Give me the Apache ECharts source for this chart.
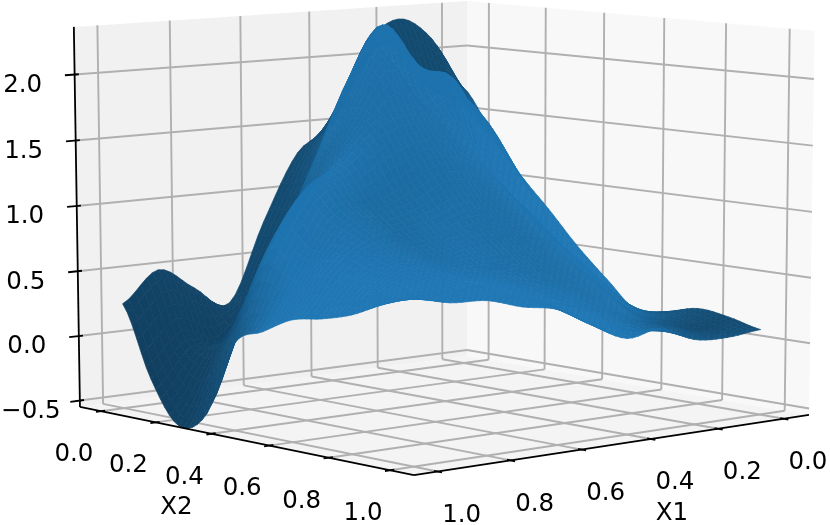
<!DOCTYPE html>
<html>
<head>
<meta charset="utf-8">
<title>surface</title>
<script src="https://cdn.jsdelivr.net/npm/echarts@6/dist/echarts.min.js"></script>
<style>
  html, body { margin: 0; padding: 0; background: #fff; }
  #chart { width: 830px; height: 525px; }
</style>
</head>
<body>
<div id="chart"></div>
<script>
// surface heights, rows = X2 ascending, columns = X1 ascending
const x1Values = [0, 0.1, 0.2, 0.3, 0.4, 0.5, 0.6, 0.7, 0.8, 0.9, 1];
const x2Values = [0, 0.1, 0.2, 0.3, 0.4, 0.5, 0.6, 0.7, 0.8, 0.9, 1];
const row00 = [1.69, 2.11, 2.28, 2.07, 1.49, 1.29, 0.774, 0.169, 0.317, 0.488, 0.257];
const row01 = [1.356, 1.64, 1.78, 2.12, 1.98, 1.46, 0.86, 0.34, -0.05, -0.02, -0.28];
const row02 = [1.05, 1.49, 1.77, 1.84, 2.31, 1.98, 1.38, 0.8, 0.3, -0.1, -0.6];
const row03 = [0.8, 1.1, 1.48, 1.92, 1.78, 2.12, 1.65, 1.15, 0.73, 0.3, -0.47];
const row04 = [0.537, 0.7, 1.0, 1.336, 1.59, 1.69, 1.6, 1.36, 1.2, 0.77, 0.1];
const row05 = [0.31, 0.51, 0.8, 1.06, 1.275, 1.34, 1.21, 1.09, 1.04, 0.66, 0.23];
const row06 = [0.1, 0.337, 0.56, 0.78, 0.96, 1.03, 0.94, 0.896, 0.92, 0.71, 0.355];
const row07 = [0.13, 0.163, 0.364, 0.563, 0.73, 0.797, 0.787, 0.757, 0.787, 0.655, 0.4];
const row08 = [0.19, 0.122, 0.185, 0.317, 0.5, 0.605, 0.658, 0.687, 0.73, 0.65, 0.466];
const row09 = [0.16, 0.098, 0.168, 0.165, 0.288, 0.416, 0.523, 0.626, 0.658, 0.65, 0.575];
const row10 = [0.102, 0.076, 0.093, 0.21, 0.169, 0.297, 0.448, 0.5, 0.578, 0.594, 0.655];
const heights = [row00, row01, row02, row03, row04, row05, row06, row07, row08, row09, row10];

const x1Ticks = [0, 0.2, 0.4, 0.6, 0.8, 1];
const x2Ticks = [0, 0.2, 0.4, 0.6, 0.8, 1];
const zTicks = [-0.5, 0, 0.5, 1, 1.5, 2];
const zTickLabels = ['\u22120.5', '0.0', '0.5', '1.0', '1.5', '2.0'];
const xTickLabels = ['0.0', '0.2', '0.4', '0.6', '0.8', '1.0'];

// axis box -> screen, camera fitted to the box corners
const boxX = (v) => 0.068 + 0.876 * v;
const boxY = (v) => 0.068 + 0.866 * v;
const boxZ = (v) => (v + 0.55) / 2.91;

function depth(X, Y, Z) {
  return 1 - 0.067 * X - 0.077 * Y - 0.0145 * Z;
}
function project(X, Y, Z) {
  const w = depth(X, Y, Z);
  return [
    (467 - 392.4 * X + 279.7 * Y - 6.77 * Z) / w,
    (356 + 23.7 * X + 27 * Y - 355.01 * Z) / w
  ];
}

// how lit the surface looks at each node, same layout as heights
const shading = [
  [0.65, 0.62, 0.62, 0.62, 0.62, 0.62, 0.62, 0.6, 0.58, 0.58, 0.55],
  [1, 0.62, 0.62, 0.62, 0.7, 0.75, 0.62, 0.6, 0.55, 0.55, 0.53],
  [1, 0.95, 0.98, 0.97, 0.97, 0.96, 0.93, 0.75, 0.68, 0.58, 0.55],
  [1, 1, 0.98, 0.97, 0.95, 0.95, 0.93, 0.85, 0.82, 0.72, 0.6],
  [1, 1, 1, 0.98, 0.95, 0.93, 0.93, 0.98, 0.98, 0.97, 0.72],
  [1, 1, 1, 0.97, 0.95, 0.92, 0.9, 0.9, 0.95, 0.98, 0.98],
  [0.95, 1, 0.98, 0.95, 0.92, 0.92, 0.93, 0.9, 0.95, 0.99, 1],
  [0.68, 0.95, 0.97, 0.95, 0.92, 0.92, 0.95, 0.93, 0.97, 1, 1],
  [0.68, 0.72, 0.95, 0.95, 0.93, 0.93, 0.95, 0.96, 0.98, 1, 1],
  [0.62, 0.62, 0.75, 0.98, 1, 1, 1, 1, 1, 1, 1],
  [0.68, 0.7, 0.75, 0.9, 1, 1, 1, 1, 1, 1, 1]
];

// smooth patch drawn between the read values
function spline(p0, p1, p2, p3, t) {
  return 0.5 * (2 * p1 + (p2 - p0) * t + (2 * p0 - 5 * p1 + 4 * p2 - p3) * t * t + (3 * p1 - p0 - 3 * p2 + p3) * t * t * t);
}
function heightAt(r, c) {
  const cl = (v, n) => Math.max(0, Math.min(n - 1, v));
  const r0 = Math.min(Math.floor(r), heights.length - 2);
  const c0 = Math.min(Math.floor(c), heights[0].length - 2);
  const col = [];
  for (let k = -1; k <= 2; k++) {
    const row = heights[cl(r0 + k, heights.length)];
    const n = row.length;
    col.push(spline(row[cl(c0 - 1, n)], row[cl(c0, n)], row[cl(c0 + 1, n)], row[cl(c0 + 2, n)], c - c0));
  }
  return spline(col[0], col[1], col[2], col[3], r - r0);
}
function shadeAt(r, c) {
  const r0 = Math.min(Math.floor(r), shading.length - 2);
  const c0 = Math.min(Math.floor(c), shading[0].length - 2);
  const fr = r - r0, fc = c - c0;
  const top = shading[r0][c0] * (1 - fc) + shading[r0][c0 + 1] * fc;
  const bot = shading[r0 + 1][c0] * (1 - fc) + shading[r0 + 1][c0 + 1] * fc;
  return top * (1 - fr) + bot * fr;
}

const SUB = 6;
const BASE = [31, 119, 180];

function buildCells() {
  const nr = (x2Values.length - 1) * SUB + 1;
  const nc = (x1Values.length - 1) * SUB + 1;
  const pts = [];
  for (let r = 0; r < nr; r++) {
    const line = [];
    for (let c = 0; c < nc; c++) {
      const x1 = x1Values[0] + (x1Values[x1Values.length - 1] - x1Values[0]) * c / (nc - 1);
      const x2 = x2Values[0] + (x2Values[x2Values.length - 1] - x2Values[0]) * r / (nr - 1);
      line.push([boxX(x1), boxY(x2), boxZ(heightAt(r / SUB, c / SUB))]);
    }
    pts.push(line);
  }
  const cells = [];
  for (let r = 0; r < nr - 1; r++) {
    for (let c = 0; c < nc - 1; c++) {
      const a = pts[r][c], b = pts[r][c + 1], d = pts[r + 1][c], e = pts[r + 1][c + 1];
      const f = shadeAt((r + 0.5) / SUB, (c + 0.5) / SUB);
      cells.push({
        corners: [a, b, e, d],
        far: depth((a[0] + e[0]) / 2, (a[1] + e[1]) / 2, (a[2] + e[2]) / 2),
        color: 'rgb(' + BASE.map((ch) => Math.round(ch * f)).join(',') + ')'
      });
    }
  }
  cells.sort((p, q) => q.far - p.far);
  return cells;
}

const panes = [
  { color: '#f1f1f1', corners: [[0, 0, 0], [1, 0, 0], [1, 0, 1], [0, 0, 1]] },
  { color: '#f8f8f8', corners: [[0, 0, 0], [0, 1, 0], [0, 1, 1], [0, 0, 1]] },
  { color: '#f4f4f4', corners: [[0, 0, 0], [1, 0, 0], [1, 1, 0], [0, 1, 0]] }
];

const gridLines = [];
x1Ticks.forEach((t) => {
  const X = boxX(t);
  gridLines.push([[X, 1, 0], [X, 0, 0]], [[X, 0, 0], [X, 0, 1]]);
});
x2Ticks.forEach((t) => {
  const Y = boxY(t);
  gridLines.push([[1, Y, 0], [0, Y, 0]], [[0, Y, 0], [0, Y, 1]]);
});
zTicks.forEach((t) => {
  const Z = boxZ(t);
  gridLines.push([[1, 0, Z], [0, 0, Z]], [[0, 0, Z], [0, 1, Z]]);
});

const axisLines = [
  [[1, 0, 0], [1, 1, 0]],
  [[0, 1, 0], [1, 1, 0]],
  [[1, 0, 0], [1, 0, 1]]
];
x1Ticks.forEach((t) => axisLines.push([[boxX(t), 0.99, 0], [boxX(t), 1.012, 0]]));
x2Ticks.forEach((t) => axisLines.push([[0.99, boxY(t), 0], [1.012, boxY(t), 0]]));
zTicks.forEach((t) => axisLines.push([[0.99, 0, boxZ(t)], [1.023, 0, boxZ(t)]]));

const FONT = '24.5px "DejaVu Sans"';
const labels = [];
x1Ticks.forEach((t, i) => labels.push({ at: [boxX(t), 1, 0], dx: 24, dy: 44, text: xTickLabels[i] }));
x2Ticks.forEach((t, i) => labels.push({ at: [1, boxY(t), 0], dx: -27, dy: 43.5, text: xTickLabels[i] }));
zTicks.forEach((t, i) => labels.push({ at: [1, 0, boxZ(t)], dx: i === 0 ? -49 : -52, dy: 11, text: zTickLabels[i] }));
labels.push({ at: [1, boxY(0.4), 0], dx: -35, dy: 74, text: 'X2' });
labels.push({ at: [boxX(0.4), 1, 0], dx: 21, dy: 75, text: 'X1' });

function polygonOf(corners, api) {
  return corners.map((p) => api.coord(project(p[0], p[1], p[2])));
}
function customSeries(items, draw) {
  return {
    type: 'custom',
    coordinateSystem: 'cartesian2d',
    silent: true,
    clip: false,
    animation: false,
    progressive: 0,
    data: items.map((_, i) => [i]),
    renderItem: (params, api) => draw(items[params.dataIndex], api)
  };
}
function lineShape(seg, api, stroke, width) {
  const a = api.coord(project(seg[0][0], seg[0][1], seg[0][2]));
  const b = api.coord(project(seg[1][0], seg[1][1], seg[1][2]));
  return {
    type: 'line',
    shape: { x1: a[0], y1: a[1], x2: b[0], y2: b[1] },
    style: { stroke: stroke, lineWidth: width, lineCap: 'butt', fill: null }
  };
}

const chart = echarts.init(document.getElementById('chart'), null, { renderer: 'canvas' });
chart.setOption({
  animation: false,
  backgroundColor: '#fff',
  tooltip: { show: false },
  grid: { left: 0, right: 0, top: 0, bottom: 0 },
  xAxis: { type: 'value', min: 0, max: 830, show: false },
  yAxis: { type: 'value', min: 0, max: 525, inverse: true, show: false },
  series: [
    customSeries(panes, (p, api) => ({
      type: 'polygon',
      shape: { points: polygonOf(p.corners, api) },
      style: { fill: p.color, stroke: null }
    })),
    customSeries(gridLines, (seg, api) => lineShape(seg, api, '#b0b0b0', 1.9)),
    customSeries(buildCells(), (cell, api) => ({
      type: 'polygon',
      shape: { points: polygonOf(cell.corners, api) },
      style: { fill: cell.color, stroke: cell.color, lineWidth: 0.7 }
    })),
    customSeries(axisLines, (seg, api) => lineShape(seg, api, '#000', 1.8)),
    customSeries(labels, (l, api) => {
      const c = api.coord(project(l.at[0], l.at[1], l.at[2]));
      return {
        type: 'text',
        style: {
          x: c[0] + l.dx,
          y: c[1] + l.dy,
          text: l.text,
          font: FONT,
          fill: '#000',
          align: 'center',
          verticalAlign: 'middle'
        }
      };
    })
  ]
});
</script>
</body>
</html>
